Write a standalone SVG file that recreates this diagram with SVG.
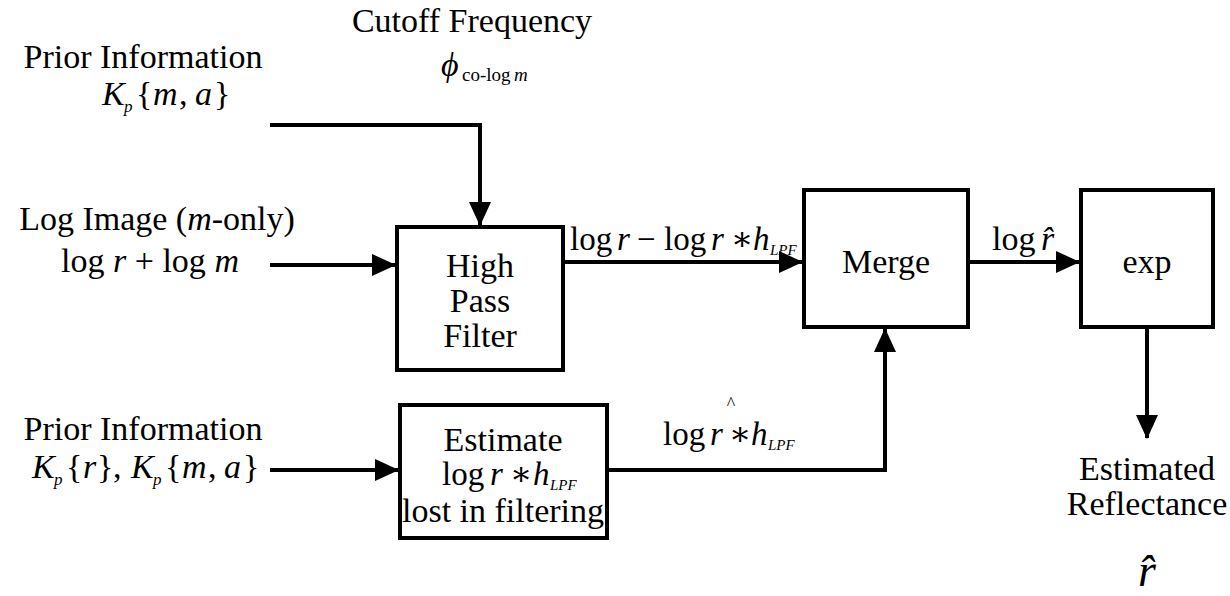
<svg xmlns="http://www.w3.org/2000/svg" width="1230" height="596" viewBox="0 0 1230 596" font-family="'Liberation Serif', 'Times New Roman', Tinos, 'DejaVu Serif', serif">
  <style>
    text { font-family: "Liberation Serif", "Times New Roman", Tinos, "DejaVu Serif", serif; font-size: 34px; fill: #000; }
    .c { text-anchor: middle; }
    .i { font-style: italic; }
    .m { font-size: 33px; }
    .sub { font-size: 17px; font-style: italic; }
    .lpf { font-size: 15px; font-style: italic; }
    .sub-up { font-size: 19px; }
    .caret { font-size: 18px; }
    .big { font-size: 46px; }
    .box { fill: #fff; stroke: #000; stroke-width: 4; }
    .wire { fill: none; stroke: #000; stroke-width: 4; }
  </style>
  <defs>
    <marker id="ah" viewBox="0 0 24 22" refX="23" refY="11" markerWidth="24" markerHeight="22" markerUnits="userSpaceOnUse" orient="auto">
      <path d="M0,0 L24,11 L0,22 Z" fill="#000"/>
    </marker>
  </defs>

  <rect width="1230" height="596" fill="#fff"/>

  <!-- connectors -->
  <g id="connectors">
    <path class="wire" d="M270,125 H480 V225" marker-end="url(#ah)"/>
    <path class="wire" d="M270,265 H395" marker-end="url(#ah)"/>
    <path class="wire" d="M563,262 H802" marker-end="url(#ah)"/>
    <path class="wire" d="M968,262 H1079" marker-end="url(#ah)"/>
    <path class="wire" d="M1147,327 V438" marker-end="url(#ah)"/>
    <path class="wire" d="M270,470 H398" marker-end="url(#ah)"/>
    <path class="wire" d="M607,470 H885 V329" marker-end="url(#ah)"/>
  </g>

  <!-- input labels -->
  <g id="cutoff">
    <text class="c" x="472" y="32">Cutoff Frequency</text>
    <text y="76"><tspan x="441" class="i">ϕ</tspan><tspan x="462" class="sub-up" dy="5">co-log</tspan><tspan x="514" class="sub" style="font-size:19px">m</tspan></text>
  </g>

  <g id="prior-top">
    <text class="c" x="143" y="68">Prior Information</text>
    <text y="105"><tspan x="102" class="i">K</tspan><tspan x="124" class="sub" dy="7">p</tspan><tspan x="136" dy="-7">{</tspan><tspan x="153" class="i">m</tspan><tspan x="179">,</tspan><tspan x="195" class="i">a</tspan><tspan x="214">}</tspan></text>
  </g>

  <g id="log-image">
    <text class="c" x="157" y="230">Log Image (<tspan class="i">m</tspan>-only)</text>
    <text class="c" x="150" y="272">log <tspan class="i">r</tspan> + log <tspan class="i">m</tspan></text>
  </g>

  <g id="prior-bottom">
    <text class="c" x="143" y="440">Prior Information</text>
    <text y="478"><tspan x="32" class="i">K</tspan><tspan x="54" class="sub" dy="7">p</tspan><tspan x="66" dy="-7">{</tspan><tspan x="83" class="i">r</tspan><tspan x="97">}</tspan><tspan x="113">,</tspan><tspan x="131" class="i">K</tspan><tspan x="153" class="sub" dy="7">p</tspan><tspan x="165" dy="-7">{</tspan><tspan x="182" class="i">m</tspan><tspan x="208">,</tspan><tspan x="224" class="i">a</tspan><tspan x="243">}</tspan></text>
  </g>

  <!-- processing blocks -->
  <g id="hpf">
    <rect class="box" x="397" y="227" width="166" height="143"/>
    <text class="c" x="480" y="277">High</text>
    <text class="c" x="480" y="312">Pass</text>
    <text class="c" x="480" y="347">Filter</text>
  </g>

  <g id="estimate">
    <rect class="box" x="400" y="405" width="207" height="133"/>
    <text class="c" x="503" y="451">Estimate</text>
    <text class="m" y="485"><tspan x="442">log</tspan><tspan x="490" class="i">r</tspan><tspan x="510">∗</tspan><tspan x="533" class="i">h</tspan><tspan x="550" class="lpf" dy="5">LPF</tspan></text>
    <text class="c" x="503" y="522">lost in filtering</text>
  </g>

  <g id="merge">
    <rect class="box" x="804" y="190" width="164" height="137"/>
    <text class="c" x="886" y="273">Merge</text>
  </g>

  <g id="exp">
    <rect class="box" x="1081" y="190" width="132" height="137"/>
    <text class="c" x="1147" y="273">exp</text>
  </g>

  <!-- connector labels -->
  <g id="label-highpass">
    <text class="m" y="250"><tspan x="570">log</tspan><tspan x="617" class="i">r</tspan><tspan x="637">−</tspan><tspan x="664">log</tspan><tspan x="711" class="i">r</tspan><tspan x="731">∗</tspan><tspan x="753" class="i">h</tspan><tspan x="770" class="lpf" dy="5">LPF</tspan></text>
  </g>

  <g id="label-logr">
    <text y="250"><tspan x="992">log</tspan><tspan x="1041" class="i">r&#x302;</tspan></text>
  </g>

  <g id="label-lowpass">
    <text class="m" y="445"><tspan x="663">log</tspan><tspan x="710" class="i">r</tspan><tspan x="729">∗</tspan><tspan x="751" class="i">h</tspan><tspan x="768" class="lpf" dy="5">LPF</tspan></text>
    <text class="c caret" x="731" y="410">^</text>
  </g>

  <!-- output -->
  <g id="output">
    <text class="c" x="1147" y="480">Estimated</text>
    <text class="c" x="1147" y="515">Reflectance</text>
    <text class="c i big" x="1147" y="586">r&#x302;</text>
  </g>
</svg>
